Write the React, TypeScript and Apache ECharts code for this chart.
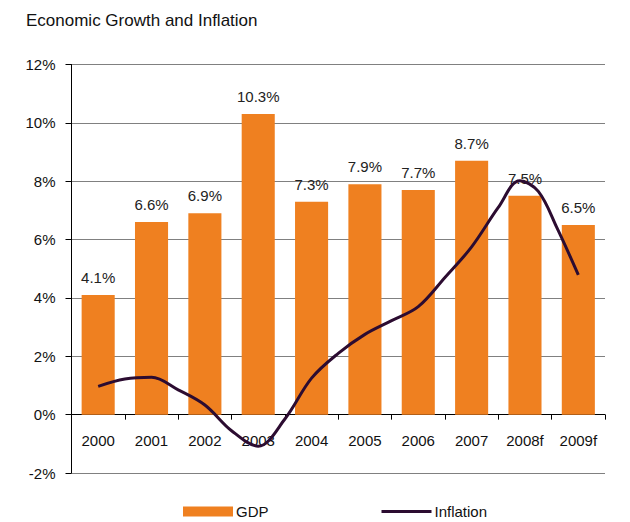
import React, { useEffect, useRef } from "react";
import * as echarts from "echarts";

const years = ["2000", "2001", "2002", "2003", "2004", "2005", "2006", "2007", "2008f", "2009f"];
const gdp = [4.1, 6.6, 6.9, 10.3, 7.3, 7.9, 7.7, 8.7, 7.5, 6.5];
// inflation sampled along the year index (0 = 2000 ... 9 = 2009f)
const inflationX = [0, 0.5, 1.0, 1.5, 2.0, 2.5, 3.0, 3.5, 4.0, 4.5, 5.0, 5.5, 6.0, 6.5, 7.0, 7.5, 7.9, 8.25, 8.6, 9.0];
const inflationY = [0.97, 1.22, 1.28, 0.85, 0.33, -0.55, -1.08, -0.15, 1.25, 2.1, 2.75, 3.22, 3.7, 4.7, 5.75, 7.1, 8.02, 7.65, 6.4, 4.79];
const yTicks = { min: -2, max: 12, interval: 2 };

const FONT = "Liberation Sans, Arial, sans-serif";

const GRID_TOP = 64.5;
const GRID_BOTTOM = 49;
const CHART_H = 522;

export default function App() {
  const ref = useRef<HTMLDivElement>(null);
  useEffect(() => {
    document.body.style.margin = "0";
    if (!ref.current) return;
    const chart = echarts.init(ref.current, undefined, { renderer: "svg" });
    // place the category axis on the zero line of the value axis
    const plotH = CHART_H - GRID_TOP - GRID_BOTTOM;
    const zeroOffset = -plotH * (0 - yTicks.min) / (yTicks.max - yTicks.min);
    chart.setOption({
      animation: false,
      backgroundColor: "#ffffff",
      title: {
        text: "Economic Growth and Inflation",
        left: 21,
        top: 7,
        textStyle: { fontFamily: FONT, fontSize: 17, fontWeight: "normal", color: "#111" },
      },
      legend: {
        left: 178,
        top: 499,
        itemWidth: 50,
        itemHeight: 10,
        itemGap: 113,
        textStyle: { fontFamily: FONT, fontSize: 15, color: "#111", padding: [0, 0, 0, -2] },
        data: [
          { name: "GDP", icon: "rect" },
          { name: "Inflation", icon: "path://M0,0 L50,0 L50,3 L0,3 Z" },
        ],
      },
      grid: { left: 71.5, right: 25, top: GRID_TOP, bottom: GRID_BOTTOM, containLabel: false },
      xAxis: [
        {
          type: "category",
          position: "bottom",
          offset: zeroOffset,
          data: years,
          axisLine: { onZero: false, lineStyle: { color: "#000", width: 1 } },
          axisTick: { show: true, length: 5, lineStyle: { color: "#000" } },
          axisLabel: { margin: 18, fontFamily: FONT, fontSize: 15, color: "#111" },
          splitLine: { show: false },
        },
        {
          type: "value",
          position: "top",
          min: -0.5,
          max: 9.5,
          show: false,
          axisLine: { onZero: false },
          splitLine: { show: false },
        },
      ],
      yAxis: {
        type: "value",
        min: yTicks.min,
        max: yTicks.max,
        interval: yTicks.interval,
        axisLine: { show: true, onZero: false, lineStyle: { color: "#000", width: 1 } },
        axisTick: { show: true, length: 6, lineStyle: { color: "#000" } },
        axisLabel: {
          margin: 16,
          fontFamily: FONT,
          fontSize: 15,
          color: "#111",
          formatter: (v: number) => `${v}%`,
        },
        splitLine: { show: true, lineStyle: { color: "#808080", width: 1.2 } },
      },
      series: [
        {
          name: "GDP",
          type: "bar",
          data: gdp,
          barWidth: "62%",
          itemStyle: { color: "#ef8020" },
          label: {
            show: true,
            position: "top",
            distance: 10,
            fontFamily: FONT,
            fontSize: 15,
            color: "#222",
            formatter: (p: any) => `${p.value.toFixed(1)}%`,
          },
          z: 2,
        },
        {
          name: "Inflation",
          type: "line",
          xAxisIndex: 1,
          data: inflationX.map((x, i) => [x, inflationY[i]]),
          smooth: 0.35,
          showSymbol: false,
          symbol: "none",
          lineStyle: { color: "#2c0c31", width: 3 },
          itemStyle: { color: "#2c0c31" },
          z: 3,
        },
      ],
    });
    return () => chart.dispose();
  }, []);
  return <div ref={ref} style={{ width: 630, height: 522 }} />;
}
